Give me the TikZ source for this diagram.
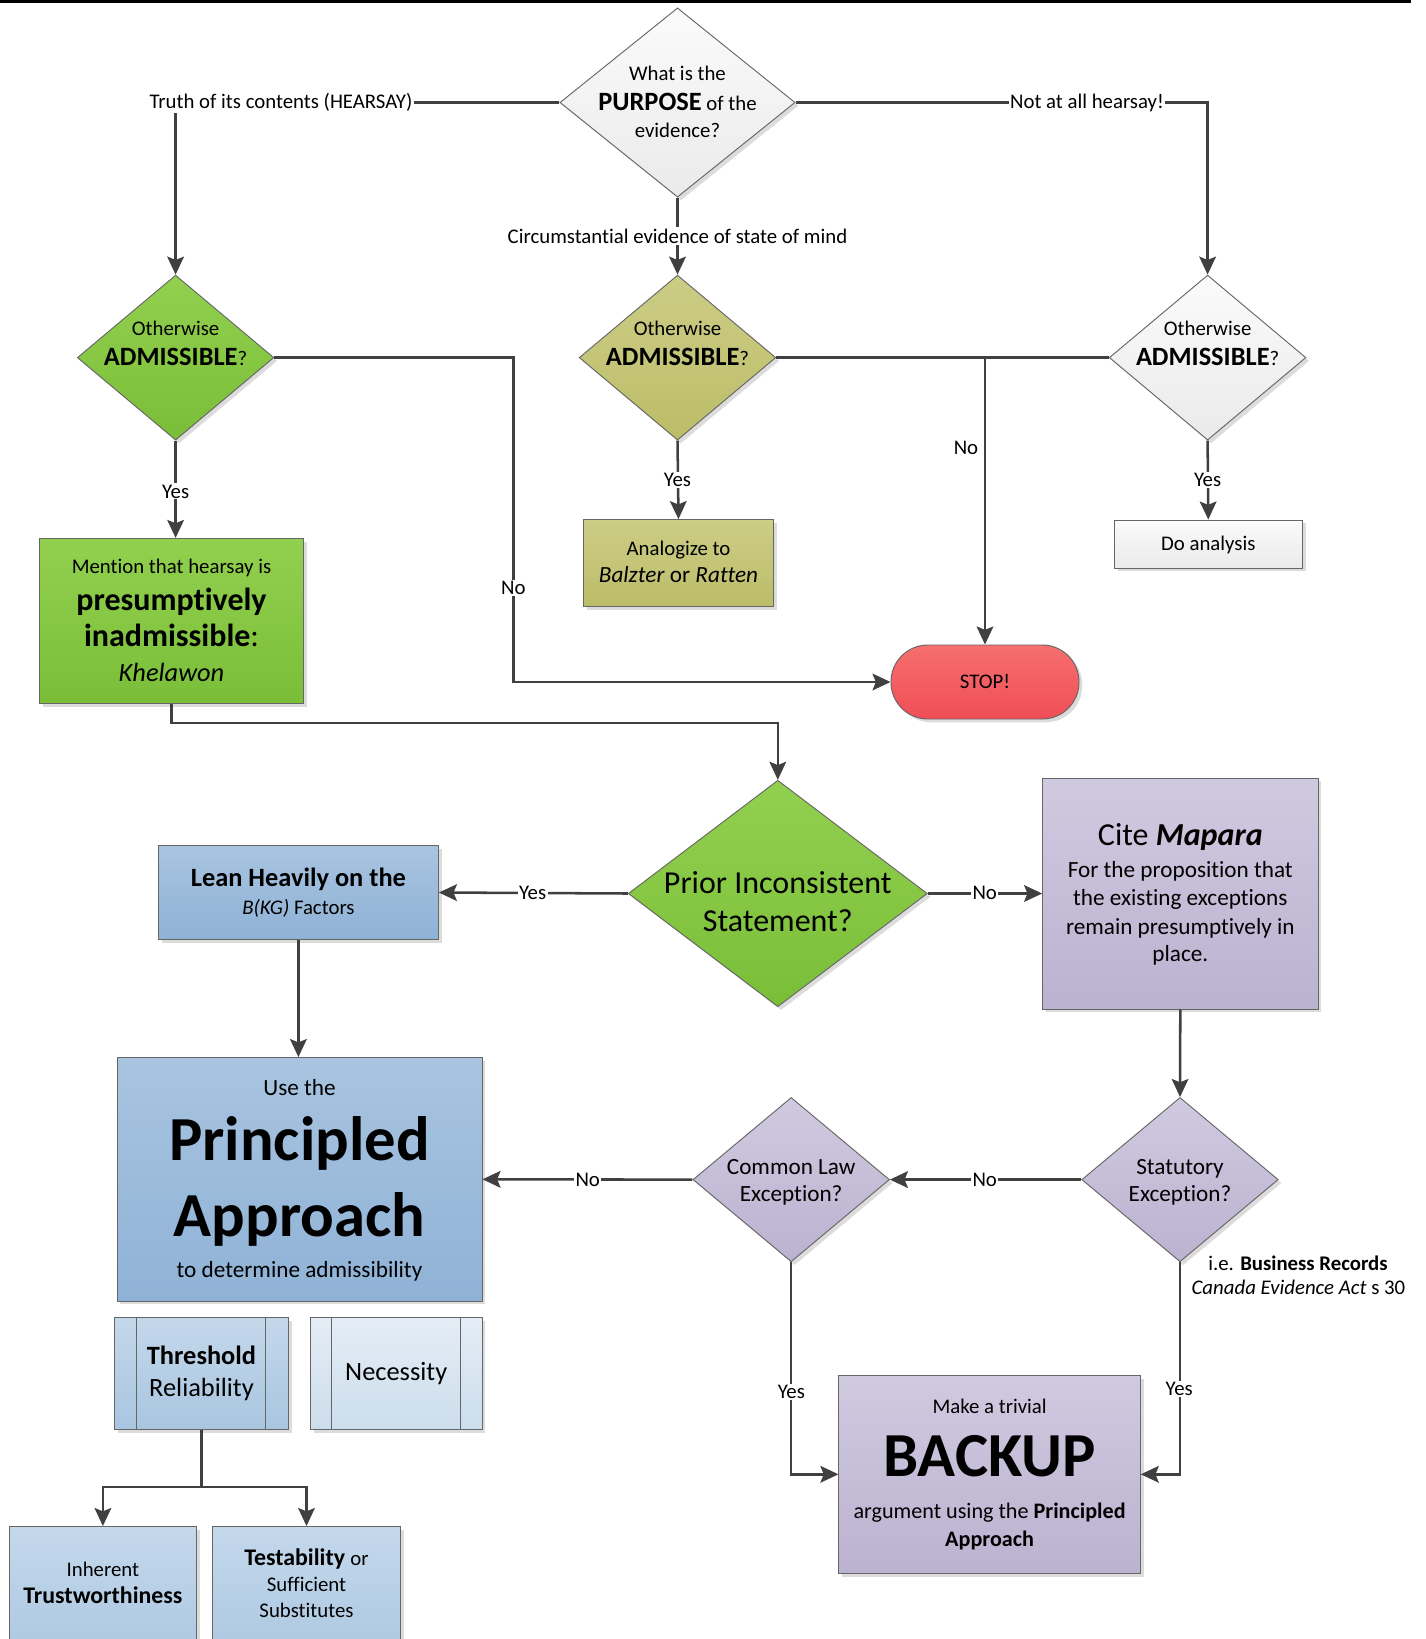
\documentclass[tikz,border=0pt]{standalone}
\usepackage{fontspec}
\setmainfont{Carlito}[Ligatures={NoCommon,NoRare,NoContextual}]
\usetikzlibrary{shapes.geometric,shadows,arrows.meta,calc}
\newcommand\px{*0.75pt}
\newcommand\fA{\fontsize{15.6}{18}\selectfont}
\newcommand\fB{\fontsize{17.4}{20}\selectfont}
\newcommand\fC{\fontsize{19.8}{23}\selectfont}
\newcommand\fD{\fontsize{24}{28}\selectfont}
\newcommand\fE{\fontsize{47}{54}\selectfont}
\definecolor{gT}{RGB}{146,208,80}\definecolor{gB}{RGB}{122,190,56}
\definecolor{oT}{RGB}{204,205,134}\definecolor{oB}{RGB}{188,189,104}
\definecolor{wT}{RGB}{251,251,251}\definecolor{wB}{RGB}{234,234,234}
\definecolor{rT}{RGB}{246,111,111}\definecolor{rB}{RGB}{240,78,86}
\definecolor{bT}{RGB}{168,196,224}\definecolor{bB}{RGB}{143,178,214}
\definecolor{lT}{RGB}{196,216,235}\definecolor{lB}{RGB}{168,197,224}
\definecolor{nT}{RGB}{228,237,245}\definecolor{nB}{RGB}{204,221,236}
\definecolor{pT}{RGB}{208,202,224}\definecolor{pB}{RGB}{187,178,208}
\definecolor{cn}{RGB}{64,64,64}
\tikzset{
  shp/.style={draw=black!60, line width=0.7pt, inner sep=0pt,
    drop shadow={shadow xshift=2.5pt,shadow yshift=-2.5pt,fill=black!30,opacity=0.45}},
  dmd/.style={shp,diamond},
  bx/.style={shp,rectangle},
  fg/.style={top color=gT,bottom color=gB},
  fo/.style={top color=oT,bottom color=oB},
  fw/.style={top color=wT,bottom color=wB},
  fr/.style={top color=rT,bottom color=rB},
  fb/.style={top color=bT,bottom color=bB},
  fl/.style={top color=lT,bottom color=lB},
  fn/.style={top color=nT,bottom color=nB},
  fp/.style={top color=pT,bottom color=pB},
  con/.style={draw=cn,line width=1.9pt,-{Stealth[length=13.5pt,width=12.5pt,inset=2.5pt]}},
  lnk/.style={draw=cn,line width=1.9pt},
  lbl/.style={fill=white,inner sep=1pt,font=\fA},
  txt/.style={anchor=base,inner sep=0pt},
  subl/.style={draw=black!60,line width=0.7pt}
}
\begin{document}
\begin{tikzpicture}[x=0.75pt,y=-0.75pt]
\clip (0,0) rectangle (1426,1639);
\draw[line width=1.8pt] (0,1.5) -- (1411,1.5);

% ---------- shapes ----------
\node[dmd,fw,minimum width=235.2\px,minimum height=189.2\px] (pur) at (677.5,102.5) {};
\node[dmd,fg,minimum width=196.6\px,minimum height=165\px] (ld) at (175.6,357.6) {};
\node[dmd,fo,minimum width=196.6\px,minimum height=165\px] (od) at (677.5,357.6) {};
\node[dmd,fw,minimum width=196.6\px,minimum height=165\px] (rd) at (1207.6,357.6) {};
\node[bx,fg,minimum width=263.5\px,minimum height=165.2\px] (mention) at (171.5,621) {};
\node[bx,fo,minimum width=190.3\px,minimum height=86.8\px] (an) at (678.5,563) {};
\node[bx,fw,minimum width=188\px,minimum height=48\px] (doan) at (1208.3,544) {};
\node[bx,fr,rectangle,rounded corners=27.5pt,minimum width=188\px,minimum height=74\px,font=\fA] (stop) at (985,682) {STOP!};
\node[dmd,fg,minimum width=299\px,minimum height=226.5\px] (pis) at (777.8,893.5) {};
\node[bx,fb,minimum width=280\px,minimum height=93.6\px] (lean) at (298.4,892.5) {};
\node[bx,fp,minimum width=275.4\px,minimum height=231\px] (mapara) at (1180.3,893.5) {};
\node[dmd,fp,minimum width=196.5\px,minimum height=164.3\px] (stat) at (1180,1179.6) {};
\node[dmd,fp,minimum width=196.5\px,minimum height=164.3\px] (cl) at (791.2,1179.6) {};
\node[bx,fb,minimum width=365\px,minimum height=243.5\px] (princ) at (299.5,1179.3) {};
\node[bx,fp,minimum width=301.4\px,minimum height=198\px] (backup) at (989.6,1474.3) {};
\node[bx,fl,minimum width=173.5\px,minimum height=112\px] (thr) at (201.5,1373.3) {};
\node[bx,fn,minimum width=171.7\px,minimum height=112\px] (nec) at (396.2,1373.3) {};
\node[bx,fl,minimum width=187.3\px,minimum height=153\px] (inh) at (102.9,1603) {};
\node[bx,fl,minimum width=187.8\px,minimum height=153\px] (tst) at (306.5,1603) {};
\draw[subl] ($(thr.north west)+(22,0)$) -- ($(thr.south west)+(22,0)$);
\draw[subl] ($(thr.north east)+(-23.4,0)$) -- ($(thr.south east)+(-23.4,0)$);
\draw[subl] ($(nec.north west)+(21.6,0)$) -- ($(nec.south west)+(21.6,0)$);
\draw[subl] ($(nec.north east)+(-21.6,0)$) -- ($(nec.south east)+(-21.6,0)$);

% ---------- texts ----------
\node[txt] (t1) at (677.5,80) {\fA What is the};
\node[txt] (t2) at (677.5,110.5) {\fC\textbf{PURPOSE}\fA{} of the};
\node[txt] (t3) at (677.5,137.3) {\fA evidence?};
\foreach \xx/\nm in {175.6/a,677.5/b,1207.6/c}{
  \node[txt] (ow\nm) at (\xx,335) {\fA Otherwise};
  \node[txt] (ad\nm) at (\xx,365.3) {\fC\textbf{ADMISSIBLE}\fA ?};
}
\node[txt] (m1) at (171.5,573.8) {\fA Mention that hearsay is};
\node[txt] (m2) at (171.5,610.5) {\fD\bfseries presumptively};
\node[txt] (m3) at (171.5,646.7) {\fD\textbf{inadmissible}:};
\node[txt] (m4) at (171.5,681) {\fC\itshape Khelawon};
\node[txt] (a1) at (678.5,555) {\fA Analogize to};
\node[txt] (a2) at (678.5,582.7) {\fB\textit{Balzter} or \textit{Ratten}};
\node[txt] (d1) at (1208.3,550.7) {\fA Do analysis};
\node[txt] (p1) at (777.8,893) {\fD Prior Inconsistent};
\node[txt] (p2) at (777.8,931.5) {\fD Statement?};
\node[txt] (le1) at (298.4,886.8) {\fC\bfseries Lean Heavily on the};
\node[txt] (le2) at (298.4,914.3) {\fA\textit{B(KG)} Factors};
\node[txt] (mp1) at (1180.3,845.7) {\fD Cite \textbf{\textit{Mapara}}};
\node[txt] (mp2) at (1180.3,877) {\fB For the proposition that};
\node[txt] (mp3) at (1180.3,905.7) {\fB the existing exceptions};
\node[txt] (mp4) at (1180.3,934.3) {\fB remain presumptively in};
\node[txt] (mp5) at (1180.3,961.8) {\fB place.};
\node[txt] (pr1) at (299.5,1095.7) {\fB Use the};
\node[txt] (pr2) at (299.5,1160) {\fE\bfseries Principled};
\node[txt] (pr3) at (299.5,1236.8) {\fE\bfseries Approach};
\node[txt] (pr4) at (299.5,1277) {\fB to determine admissibility};
\node[txt] (s1) at (1180,1174.3) {\fB Statutory};
\node[txt] (s2) at (1180,1201) {\fB Exception?};
\node[txt] (c1) at (791.2,1174.3) {\fB Common Law};
\node[txt] (c2) at (791.2,1201) {\fB Exception?};
\node[txt] (br1) at (1298,1270) {\fA i.e. \textbf{Business Records}};
\node[txt] (br2) at (1298.4,1294.6) {\fA\textit{Canada Evidence Act} s 30};
\node[txt] (b1) at (989.6,1413.3) {\fA Make a trivial};
\node[txt] (b2) at (989.6,1476.7) {\fE\bfseries BACKUP};
\node[txt] (b3) at (989.6,1518.3) {\fontsize{16.6}{20}\selectfont argument using the \textbf{Principled}};
\node[txt] (b4) at (989.6,1546) {\fontsize{16.6}{20}\selectfont\bfseries Approach};
\node[txt] (th1) at (201.5,1364) {\fC\bfseries Threshold};
\node[txt] (th2) at (201.5,1396.7) {\fC Reliability};
\node[txt] (ne1) at (396.2,1380) {\fC Necessity};
\node[txt] (ih1) at (102.9,1576.7) {\fA Inherent};
\node[txt] (ih2) at (102.9,1603.3) {\fontsize{17.9}{21}\selectfont\bfseries Trustworthiness};
\node[txt] (ts1) at (306.5,1565) {\fontsize{17.9}{21}\selectfont\textbf{Testability} \fA or};
\node[txt] (ts2) at (306.5,1591.7) {\fA Sufficient};
\node[txt] (ts3) at (306.5,1617.3) {\fA Substitutes};

% ---------- connectors ----------
\coordinate (cx) at (513.3,0);
\draw[con] (pur.west) -| (ld.north);
\draw[con] (pur.east) -| (rd.north);
\draw[con] (pur.south) -- (od.north);
\draw[con] (ld.south) -- (ld.south |- mention.north);
\draw[con] (ld.east) -| (cx |- stop.west) -- (stop.west);
\draw[con] (od.south) -- (an.north);
\draw[con] (rd.south) -- (doan.north);
\draw[lnk] (od.east) -- (rd.west);
\draw[con] (stop.north |- od.east) -- (stop.north);
\draw[con] (mention.south) -- ++(0,18.8) -| (pis.north);
\draw[con] (pis.west) -- (lean.east);
\draw[con] (pis.east) -- (mapara.west);
\draw[con] (lean.south) -- (lean.south |- princ.north);
\draw[con] (mapara.south) -- (stat.north);
\draw[con] (stat.west) -- (cl.east);
\draw[con] (cl.west) -- (princ.east);
\draw[con] (cl.south) |- (backup.west);
\draw[con] (stat.south) |- (backup.east);
\draw[lnk] (thr.south) -- ++(0,57.4) coordinate (split);
\draw[con] (split) -| (inh.north);
\draw[con] (split) -| (tst.north);

% ---------- labels ----------
\node[lbl] (lT) at (281,102.5) {Truth of its contents (HEARSAY)};
\node[lbl] (lN) at (1087,102.5) {Not at all hearsay!};
\node[lbl] (lC) at (677.5,236) {Circumstantial evidence of state of mind};
\node[lbl] (y1) at (175.6,491.4) {Yes};
\node[lbl] (y2) at (677.5,480) {Yes};
\node[lbl] (y3) at (1207.6,480) {Yes};
\node[lbl] (n1) at (513.3,588) {No};
\node[lbl] (n2) at (966,447.7) {No};
\node[lbl] (y4) at (532.6,892.8) {Yes};
\node[lbl] (n3) at (984.7,893) {No};
\node[lbl] (n4) at (984.7,1179.6) {No};
\node[lbl] (n5) at (587.7,1179.6) {No};
\node[lbl] (y5) at (791.4,1391.7) {Yes};
\node[lbl] (y6) at (1179.2,1389) {Yes};
\end{tikzpicture}
\end{document}
